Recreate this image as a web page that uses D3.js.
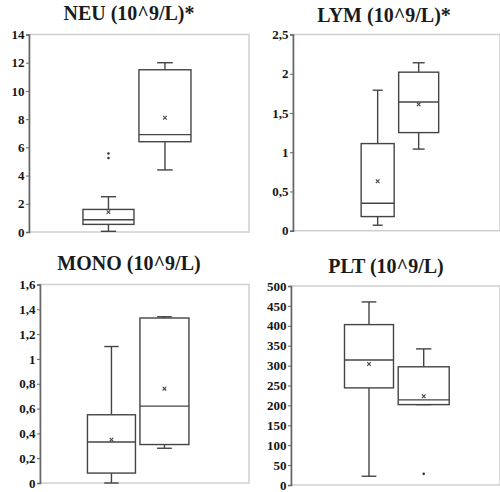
<!DOCTYPE html>
<html>
<head>
<meta charset="utf-8">
<script src="https://d3js.org/d3.v7.min.js"></script>
<style>
  body { margin: 0; background: #fff; }
  svg { display: block; }
</style>
</head>
<body>
<div id="chart"></div>
<script>
// two groups per panel, no x labels in the original
var groups = ["g1", "g2"];

// box stats: [whisker low, q1, median, q3, whisker high]
var neuBoxes = [[0.05, 0.54, 0.87, 1.6, 2.5], [4.4, 6.4, 6.9, 11.5, 12.0]];
var neuMeans = [1.41, 8.1];
var neuOutliers = [[5.25, 5.56], []];
var neuTicks = [0, 2, 4, 6, 8, 10, 12, 14];

var lymBoxes = [[0.07, 0.18, 0.35, 1.11, 1.79], [1.04, 1.25, 1.64, 2.02, 2.14]];
var lymMeans = [0.63, 1.61];
var lymOutliers = [[], []];
var lymTicks = [0, 0.5, 1, 1.5, 2, 2.5];

var monoBoxes = [[0.0, 0.08, 0.33, 0.55, 1.1], [0.28, 0.31, 0.62, 1.33, 1.34]];
var monoMeans = [0.35, 0.76];
var monoOutliers = [[], []];
var monoTicks = [0, 0.2, 0.4, 0.6, 0.8, 1, 1.2, 1.4, 1.6];

var pltBoxes = [[22, 244, 314, 403, 460], [202, 202, 214, 297, 342]];
var pltMeans = [304, 223];
var pltOutliers = [[], [28]];
var pltTicks = [0, 50, 100, 150, 200, 250, 300, 350, 400, 450, 500];

var width = 500, height = 492;
var serif = "'Liberation Serif', 'Times New Roman', serif";
var svg = d3.select("#chart").append("svg").attr("width", width).attr("height", height);

// layout of each panel (pixels)
var panels = [
  { title: "NEU (10^9/L)*", boxes: neuBoxes, means: neuMeans, outliers: neuOutliers, ticks: neuTicks,
    x0: 29, x1: 249, y0: 232, y1: 34.5, pad: 1.447, align: 0.486, boxW: [51, 52], tx: 129, ty: 20 },
  { title: "LYM (10^9/L)*", boxes: lymBoxes, means: lymMeans, outliers: lymOutliers, ticks: lymTicks,
    x0: 293, x1: 500, y0: 230.7, y1: 34.5, pad: 2.024, align: 0.51, boxW: [33, 40], tx: 384, ty: 21.5 },
  { title: "MONO (10^9/L)", boxes: monoBoxes, means: monoMeans, outliers: monoOutliers, ticks: monoTicks,
    x0: 40, x1: 249, y0: 483, y1: 284.5, pad: 1.472, align: 0.458, boxW: [48, 49], tx: 129, ty: 270 },
  { title: "PLT (10^9/L)", boxes: pltBoxes, means: pltMeans, outliers: pltOutliers, ticks: pltTicks,
    x0: 291, x1: 500, y0: 485, y1: 286, pad: 1.41, align: 0.5055, boxW: [49, 51], tx: 386, ty: 272.5 }
];

var fmt = function(d) { return String(d).replace(".", ","); };
var ink = "#444";

panels.forEach(function(p) {
  var ticks = p.ticks;
  var y = d3.scaleLinear().domain([ticks[0], ticks[ticks.length - 1]]).range([p.y0, p.y1]);
  var x = d3.scalePoint().domain(groups).range([p.x0, p.x1]).padding(p.pad).align(p.align);
  var g = svg.append("g");

  // frame
  g.append("rect")
    .attr("x", p.x0).attr("y", p.y1)
    .attr("width", p.x1 - p.x0).attr("height", p.y0 - p.y1)
    .attr("fill", "none").attr("stroke", "#cfcfcf").attr("stroke-width", 1.5);

  // y axis
  var ax = g.append("g")
    .attr("transform", "translate(" + p.x0 + ",0)")
    .call(d3.axisLeft(y).tickValues(ticks).tickFormat(fmt).tickSize(3).tickPadding(1.5));
  ax.attr("font-family", serif).attr("font-size", 13);
  ax.selectAll("text").style("font-family", serif).style("font-weight", "bold").attr("fill", "#151515");
  ax.select(".domain").attr("stroke", "#666").attr("stroke-width", 1.6);
  ax.selectAll(".tick line").attr("stroke", "#666");

  g.append("text")
    .attr("x", p.tx).attr("y", p.ty).attr("text-anchor", "middle")
    .style("font-family", serif).style("font-weight", "bold").style("font-size", "20px")
    .attr("fill", "#1a1a1a")
    .text(p.title);

  groups.forEach(function(key, i) {
    var b = p.boxes[i];
    var cx = x(key);
    var bw = p.boxW[i];
    var cap = bw * 0.3;
    var box = g.append("g").attr("stroke", ink).attr("stroke-width", 1.4).attr("fill", "none");

    // whiskers
    box.append("line").attr("x1", cx).attr("x2", cx).attr("y1", y(b[0])).attr("y2", y(b[1]));
    box.append("line").attr("x1", cx).attr("x2", cx).attr("y1", y(b[3])).attr("y2", y(b[4]));
    box.append("line").attr("x1", cx - cap / 2).attr("x2", cx + cap / 2).attr("y1", y(b[0])).attr("y2", y(b[0]));
    box.append("line").attr("x1", cx - cap / 2).attr("x2", cx + cap / 2).attr("y1", y(b[4])).attr("y2", y(b[4]));

    // box + median
    box.append("rect").attr("x", cx - bw / 2).attr("y", y(b[3]))
      .attr("width", bw).attr("height", y(b[1]) - y(b[3])).attr("fill", "#fff");
    box.append("line").attr("x1", cx - bw / 2).attr("x2", cx + bw / 2).attr("y1", y(b[2])).attr("y2", y(b[2]));

    // mean marker
    var my = y(p.means[i]);
    box.append("path").attr("stroke-width", 1.1)
      .attr("d", "M" + (cx - 1.8) + "," + (my - 1.8) + "L" + (cx + 1.8) + "," + (my + 1.8) +
                 "M" + (cx - 1.8) + "," + (my + 1.8) + "L" + (cx + 1.8) + "," + (my - 1.8));

    // outliers
    g.selectAll(null).data(p.outliers[i]).enter().append("circle")
      .attr("cx", cx).attr("cy", function(d) { return y(d); })
      .attr("r", 1.3).attr("fill", "#333");
  });
});
</script>
</body>
</html>
